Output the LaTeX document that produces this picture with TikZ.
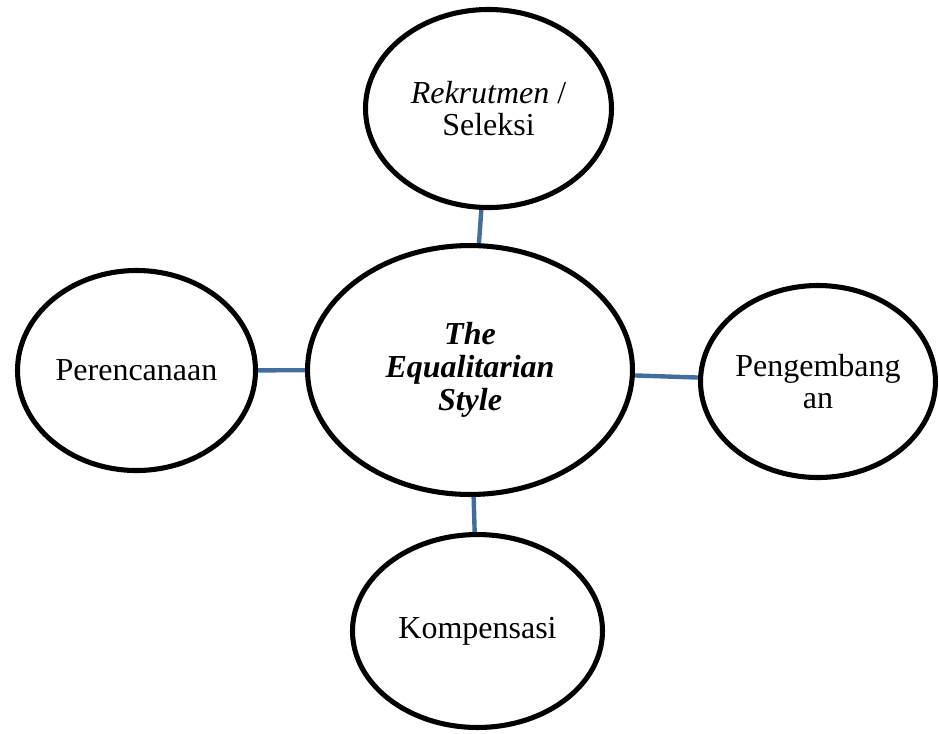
\documentclass[tikz,border=0pt]{standalone}
\usepackage{fontspec}
\setmainfont{Liberation Serif}
\usetikzlibrary{shapes.geometric,backgrounds}
\definecolor{linkblue}{RGB}{65,110,158}
\tikzset{
  bubble/.style={ellipse, draw=black, line width=3.8pt, inner sep=0pt, align=center,
    font=\fontsize{24}{24.6}\selectfont},
  link/.style={draw=linkblue, line width=3.3pt}
}
\begin{document}
\begin{tikzpicture}[x=0.75pt,y=-0.75pt]
\useasboundingbox (0,0) rectangle (939,733);
\node[bubble, minimum width=184.5pt, minimum height=148.5pt] (top) at (488.5,108.5) {\textit{Rekrutmen} /\\Seleksi};
\node[bubble, minimum width=243.7pt, minimum height=186.7pt] (mid) at (470,370) {\textbf{\textit{The}}\\\textbf{\textit{Equalitarian}}\\\textbf{\textit{Style}}};
\node[bubble, minimum width=178.5pt, minimum height=150pt] (left) at (136.5,370.5) {Perencanaan};
\node[bubble, minimum width=176.2pt, minimum height=144pt] (right) at (818,381.5) {Pengembang\\an};
\node[bubble, minimum width=187.5pt, minimum height=144.7pt] (bottom) at (477.5,631) {Kompensasi};
\begin{scope}[on background layer]
\draw[link] (top) -- (mid);
\draw[link] (left) -- (mid);
\draw[link] (mid) -- (right);
\draw[link] (mid) -- (bottom);
\end{scope}
\end{tikzpicture}
\end{document}
